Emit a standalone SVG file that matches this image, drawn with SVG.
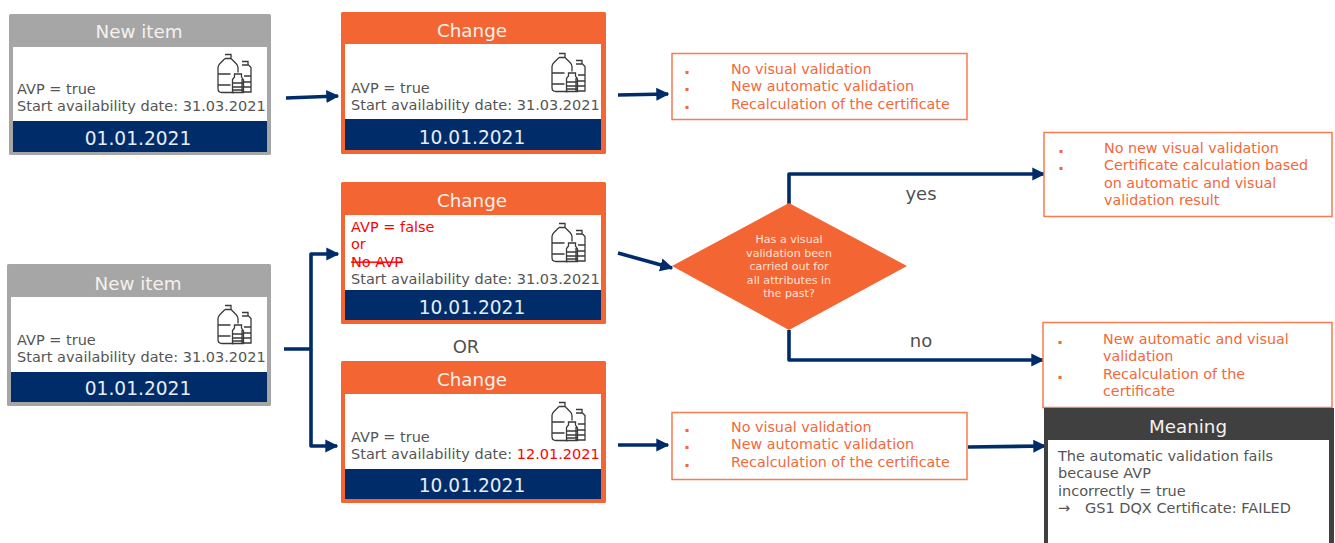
<svg xmlns="http://www.w3.org/2000/svg" width="1335" height="543" viewBox="0 0 1335 543">
<style>
text{font-family:"DejaVu Sans","Liberation Sans",sans-serif}
.h{font-size:18.3px;fill:#f6f1ec;text-anchor:middle}
.d{font-size:18.6px;fill:#e8edf4;text-anchor:middle}
.b{font-size:14.5px;fill:#555}
.r{fill:#f00}
.o{font-size:14.3px;fill:#f4683a}
.p{font-size:6px;fill:#f4683a}
.l{font-size:18px;fill:#505050;text-anchor:middle}
.q{font-size:11.1px;fill:#fbe3d8;text-anchor:middle}
.c{fill:none;stroke:#002d6a;stroke-width:3.6;stroke-linejoin:round}
.box{fill:#fff;stroke:#f97b50;stroke-width:1.5}
.ic{fill:none;stroke:#3a3a3a;stroke-width:1.3}
</style>
<defs>
<marker id="a" viewBox="0 0 10 10" refX="9" refY="5" markerWidth="13" markerHeight="14" markerUnits="userSpaceOnUse" orient="auto"><path d="M0 0L10 5L0 10Z" fill="#002d6a"/></marker>
<g id="bot">
<path class="ic" d="M7 0.500h6v4l5 5q2 2 2 4v5M7 4.500h6M7 4.500l-5 5q-2 2-2 4v21q0 4 4 4h12M0.500 20h12M0.500 31h12"/>
<path class="ic" d="M24 7.500h6v3l3 3v24.500h-9v-13M24 11h6M16.500 20h7v3l2 3v12.500h-11v-13l2-2.500z"/>
<path class="ic" d="M15 29h10M15 33h10M15 36h10M26 22h7M26 28h7M26 33h7"/>
</g>
</defs>
<g id="conn">
<path class="c" d="M286 98L338 96" marker-end="url(#a)"/>
<path class="c" d="M618 95L668 94" marker-end="url(#a)"/>
<path class="c" d="M618 253L672 268" marker-end="url(#a)"/>
<path class="c" d="M284 349H311V254H338" marker-end="url(#a)"/>
<path class="c" d="M311 349V446H337" marker-end="url(#a)"/>
<path class="c" d="M789 204V174H1044" marker-end="url(#a)"/>
<path class="c" d="M789 330V360H1043" marker-end="url(#a)"/>
<path class="c" d="M618 445H668" marker-end="url(#a)"/>
<path class="c" d="M968 447L1045 446" marker-end="url(#a)"/>
</g>
<g id="n1"><rect x="9" y="14" width="262" height="141" rx="1.5" fill="#a6a6a6"/><rect x="13" y="47" width="254" height="74" fill="#fff"/><rect x="13" y="121" width="254" height="31" fill="#002d6a"/><text class="h" x="139" y="37.600">New item</text><text class="b" x="17" y="93.600">AVP = true</text><text class="b" x="17" y="110.600">Start availability date: 31.03.2021</text><text class="d" x="138" y="145">01.01.2021</text><use href="#bot" x="218" y="54"/></g>
<g id="n2"><rect x="341" y="12" width="265" height="142" rx="1.5" fill="#f46534"/><rect x="345" y="44" width="256" height="75" fill="#fff"/><rect x="345" y="119" width="256" height="31" fill="#002d6a"/><text class="h" x="472" y="36.600">Change</text><text class="b" x="351" y="92.600">AVP = true</text><text class="b" x="351" y="109.600">Start availability date: 31.03.2021</text><text class="d" x="472" y="144">10.01.2021</text><use href="#bot" x="552" y="53"/></g>
<g id="n3"><rect class="box" x="672" y="53.500" width="295" height="66"/><text class="p" x="685" y="74">▪</text><text class="p" x="685" y="91">▪</text><text class="p" x="685" y="109">▪</text><text class="o" x="731" y="74">No visual validation</text><text class="o" x="731" y="91">New automatic validation</text><text class="o" x="731" y="109">Recalculation of the certificate</text></g>
<g id="n4"><rect x="341" y="182" width="265" height="142" rx="1.5" fill="#f46534"/><rect x="345" y="215" width="256" height="75" fill="#fff"/><rect x="345" y="290" width="256" height="30" fill="#002d6a"/><text class="h" x="472" y="206.600">Change</text><text class="b r" x="351" y="232">AVP = false</text><text class="b r" x="351" y="249">or</text><text class="b r" x="351" y="266.500" text-decoration="line-through">No AVP</text><text class="b" x="351" y="284">Start availability date: 31.03.2021</text><text class="d" x="472" y="314">10.01.2021</text><use href="#bot" x="552" y="223"/></g>
<g id="n5"><path d="M672 266L789 203L907 266L789 330Z" fill="#f46534"/><text class="q" x="789" y="243">Has a visual</text><text class="q" x="789" y="257">validation been</text><text class="q" x="789" y="270">carried out for</text><text class="q" x="789" y="284">all attributes in</text><text class="q" x="789" y="297">the past?</text></g>
<text class="l" x="921" y="199.500">yes</text>
<text class="l" x="921" y="347">no</text>
<g id="n6"><rect class="box" x="1044" y="132.500" width="288" height="84"/><text class="p" x="1059" y="153">▪</text><text class="p" x="1059" y="170">▪</text><text class="o" x="1104" y="153">No new visual validation</text><text class="o" x="1104" y="170">Certificate calculation based</text><text class="o" x="1104" y="188">on automatic and visual</text><text class="o" x="1104" y="205">validation result</text></g>
<g id="n7"><rect x="7" y="264" width="264" height="142" rx="1.500" fill="#a6a6a6"/><rect x="11" y="297" width="256" height="75" fill="#fff"/><rect x="11" y="372" width="256" height="30" fill="#002d6a"/><text class="h" x="138" y="289.600">New item</text><text class="b" x="17" y="344.600">AVP = true</text><text class="b" x="17" y="361.600">Start availability date: 31.03.2021</text><text class="d" x="138" y="395">01.01.2021</text><use href="#bot" x="218" y="305"/></g>
<text class="l" x="466" y="352.500">OR</text>
<g id="n8"><rect x="341" y="361" width="265" height="142" rx="1.5" fill="#f46534"/><rect x="345" y="394" width="256" height="75" fill="#fff"/><rect x="345" y="469" width="256" height="30" fill="#002d6a"/><text class="h" x="472" y="385.600">Change</text><text class="b" x="351" y="441.600">AVP = true</text><text class="b" x="351" y="458.600">Start availability date: <tspan class="r">12.01.2021</tspan></text><text class="d" x="472" y="492">10.01.2021</text><use href="#bot" x="552" y="402"/></g>
<g id="n9"><rect class="box" x="672" y="412.500" width="295" height="67"/><text class="p" x="685" y="432">▪</text><text class="p" x="685" y="449">▪</text><text class="p" x="685" y="467">▪</text><text class="o" x="731" y="432">No visual validation</text><text class="o" x="731" y="449">New automatic validation</text><text class="o" x="731" y="467">Recalculation of the certificate</text></g>
<g id="n10"><rect class="box" x="1043" y="322.500" width="289" height="85"/><text class="p" x="1058" y="344">▪</text><text class="p" x="1058" y="379">▪</text><text class="o" x="1103" y="344">New automatic and visual</text><text class="o" x="1103" y="361">validation</text><text class="o" x="1103" y="379">Recalculation of the</text><text class="o" x="1103" y="396">certificate</text></g>
<g id="n11"><rect x="1044" y="408" width="290" height="135" fill="#404040"/><rect x="1048" y="440" width="281" height="103" fill="#fff"/><text class="h" x="1188" y="432.600">Meaning</text><text class="b" x="1058" y="460.600">The automatic validation fails</text><text class="b" x="1058" y="477.600">because AVP</text><text class="b" x="1058" y="495.600">incorrectly = true</text><text class="b" x="1058" y="512.600">→</text><text class="b" x="1085" y="512.600">GS1 DQX Certificate: FAILED</text></g>
</svg>
